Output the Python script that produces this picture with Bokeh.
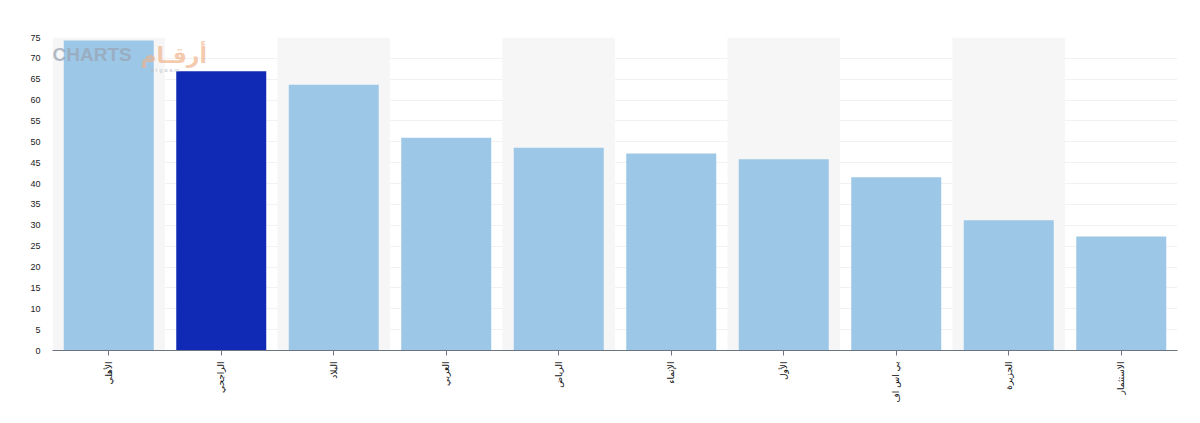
import math
from bokeh.plotting import figure
from bokeh.models import ColumnDataSource, Label, FixedTicker
from bokeh.embed import file_html
from bokeh.resources import INLINE

banks = ["الأهلي", "الراجحي", "البلاد", "العربي", "الرياض", "الإنماء", "الأول", "بي اس اف", "الجزيرة", "الاستثمار"]
values = [74.3, 66.9, 63.7, 51.0, 48.6, 47.2, 45.8, 41.5, 31.2, 27.3]
highlight = "الراجحي"
y_ticks = list(range(0, 80, 5))

light = "#9cc7e6"
dark = "#112ab5"
colors = [dark if b == highlight else light for b in banks]

src = ColumnDataSource(dict(x=banks, top=values, color=colors))
band_src = ColumnDataSource(dict(x=banks[::2], top=[max(y_ticks)] * len(banks[::2])))

p = figure(x_range=banks, y_range=(0, 75), width=1184, height=405,
           output_backend="svg", toolbar_location=None,
           min_border_left=52, min_border_right=7, min_border_top=37, min_border_bottom=10)
p.outline_line_color = None
p.background_fill_color = "white"

p.vbar(x="x", top="top", width=1.0, bottom=0, source=band_src,
       fill_color="#f6f6f6", line_color=None)
p.vbar(x="x", top="top", width=0.8, bottom=0, source=src,
       fill_color="color", line_color=None)

p.x_range.range_padding = 0
p.xgrid.grid_line_color = None
p.ygrid.grid_line_color = "#f2f2f2"
p.ygrid.grid_line_width = 1

p.yaxis.ticker = FixedTicker(ticks=y_ticks)
p.yaxis.axis_line_color = None
p.yaxis.major_tick_line_color = None
p.yaxis.minor_tick_line_color = None
p.yaxis.major_label_text_font = "Liberation Sans"
p.yaxis.major_label_text_font_size = "9px"
p.yaxis.major_label_text_color = "#222222"
p.yaxis.major_label_standoff = 6

p.xaxis.axis_line_color = "#6b7480"
p.xaxis.axis_line_width = 1
p.xaxis.major_tick_line_color = "#6b7480"
p.xaxis.major_tick_in = 0
p.xaxis.major_tick_out = 5
p.xaxis.major_label_orientation = math.pi / 2
p.xaxis.major_label_text_font = "DejaVu Sans"
p.xaxis.major_label_text_font_size = "9px"
p.xaxis.major_label_text_color = "#111111"
p.xaxis.major_label_standoff = 6

# watermark
p.add_layout(Label(x=0, y=286, x_units="screen", y_units="screen", text="CHARTS",
                   text_font="Liberation Sans", text_font_size="19px", text_font_style="bold",
                   text_color="#9aa5b5", text_alpha=0.75))
p.add_layout(Label(x=88, y=283, x_units="screen", y_units="screen", text="أرقـام",
                   text_font="DejaVu Sans", text_font_size="22px", text_font_style="bold",
                   text_color="#f0b48c", text_alpha=0.7))
p.add_layout(Label(x=98, y=278, x_units="screen", y_units="screen", text="a r g a a m",
                   text_font="Liberation Sans", text_font_size="6px",
                   text_color="#b0b8c4", text_alpha=0.8))

open("out.html", "w").write(file_html(p, INLINE))
